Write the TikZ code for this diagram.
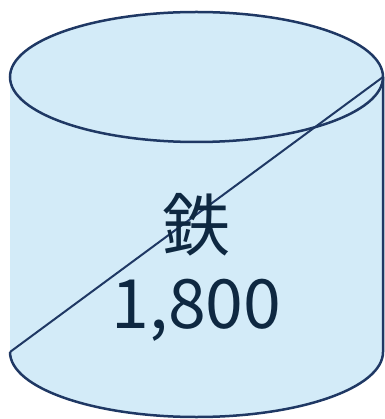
\documentclass[tikz,border=0pt]{standalone}
\usepackage{fontspec}
\setmainfont{Noto Sans CJK JP}
\definecolor{cylfill}{HTML}{D3EBF8}
\definecolor{cylline}{HTML}{1F3864}
\definecolor{txtcol}{HTML}{0E2841}
\begin{document}
\begin{tikzpicture}[x=1pt,y=-1pt,
  outline/.style={draw=cylline,line width=2.5pt},
  lbl/.style={text=txtcol,font=\fontsize{68}{80}\selectfont,inner sep=0pt,anchor=base}]
\useasboundingbox (0,0) rectangle (384,419);
\coordinate (TE) at (383,77);
\coordinate (BW) at (10,352);
\fill[cylfill] (10,77) -- (BW)
  arc[start angle=180,end angle=0,x radius=186.5,y radius=65]
  -- (TE) arc[start angle=0,end angle=-180,x radius=186.5,y radius=65] -- cycle;
\draw[outline] (BW)
  arc[start angle=180,end angle=0,x radius=186.5,y radius=65] -- (TE);
\draw[outline] (196.5,77) ellipse[x radius=186.5,y radius=65];
\draw[outline,line width=2pt] (TE) -- (BW);
\node[lbl] (iron) at (196.5,250) {鉄};
\node[lbl] (val) at (196.5,328) {1,800};
\end{tikzpicture}
\end{document}
